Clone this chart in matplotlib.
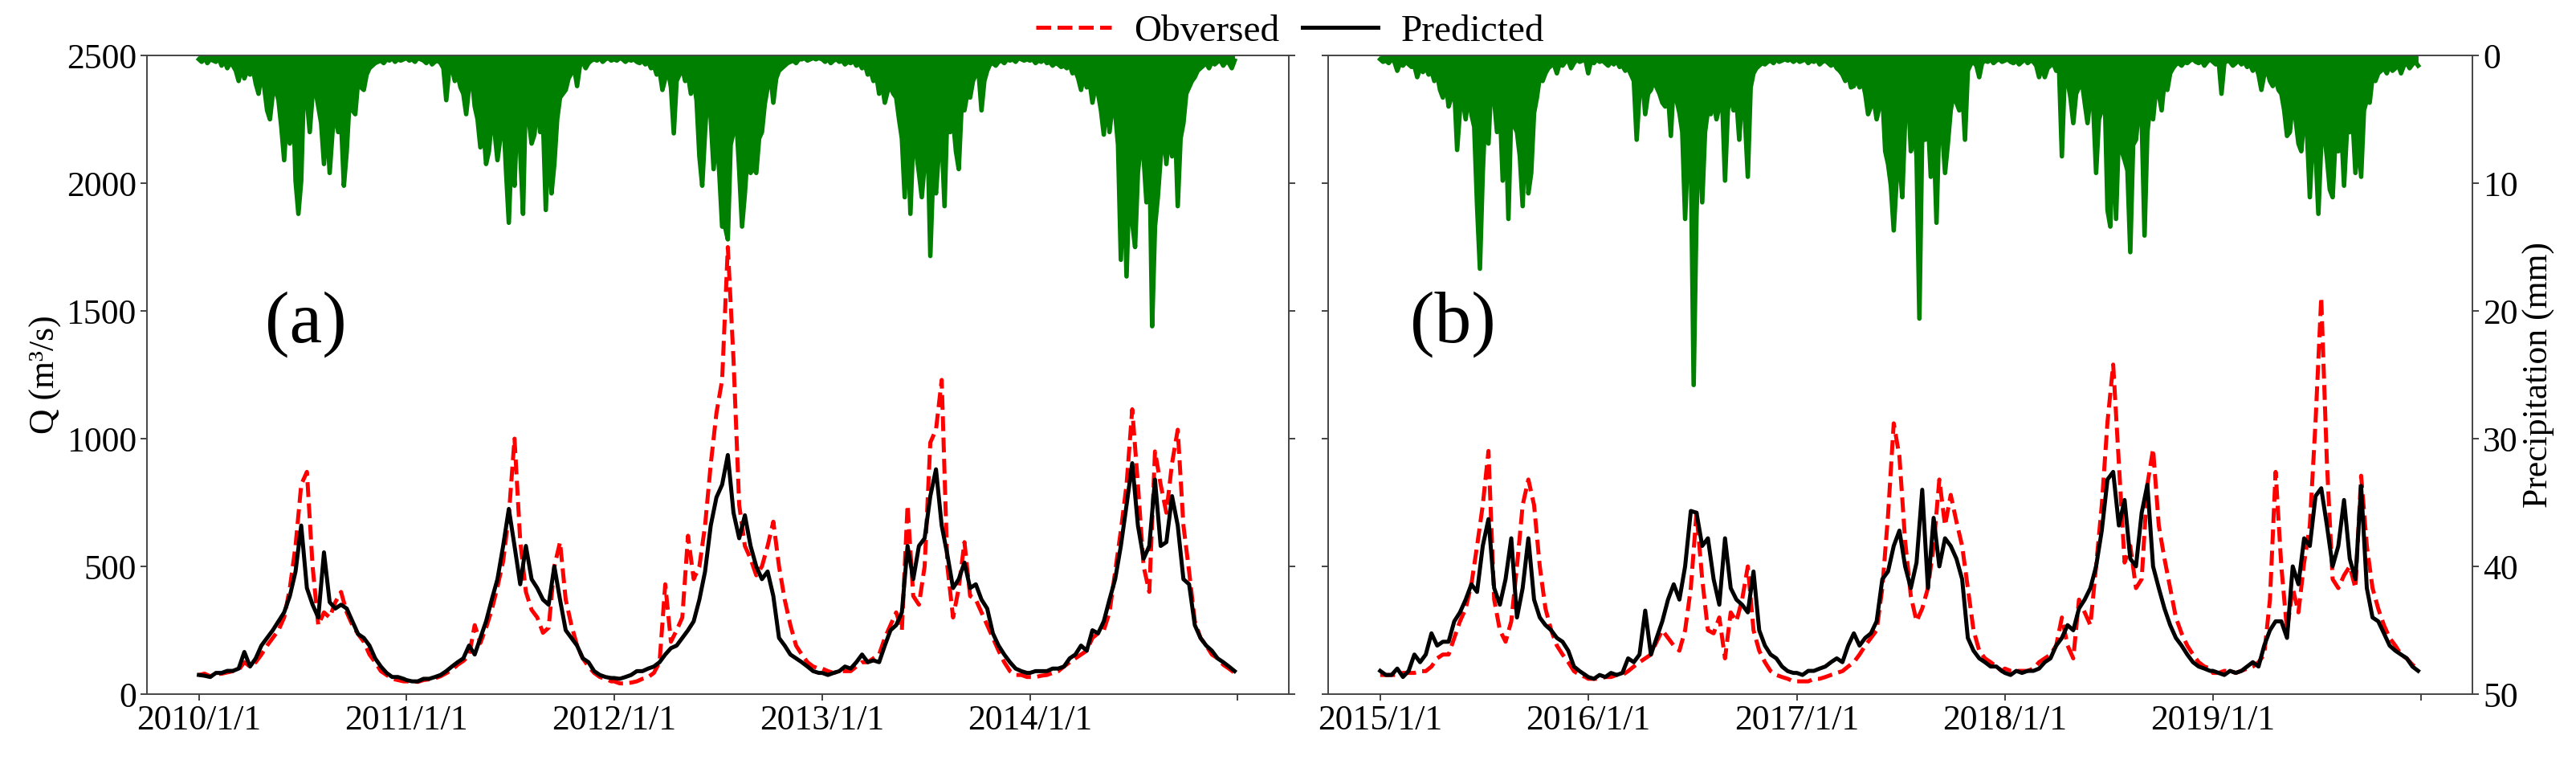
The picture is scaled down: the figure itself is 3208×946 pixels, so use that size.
import numpy as np
import pandas as pd
import matplotlib
matplotlib.use('Agg')
from matplotlib import pyplot as plt

plt.rcParams['font.family'] = ['Liberation Serif', 'DejaVu Serif']

years_a = [2010, 2011, 2012, 2013, 2014]
years_b = [2015, 2016, 2017, 2018, 2019]

obs_a = [
    75, 80, 70, 78, 80, 85, 90, 95, 125, 108, 125, 155, 190, 220, 250, 300, 415, 580, 820, 870, 500, 270, 320, 300, 360, 400, 320, 270, 235, 205, 155, 125, 90, 75, 60, 55, 50,
    50, 50, 48, 55, 58, 62, 70, 82, 95, 115, 130, 150, 270, 200, 260, 330, 420, 520, 700, 1000, 600, 400, 330, 300, 240, 260, 500, 595, 370, 270, 190, 140, 108, 83, 67, 60, 50,
    50, 42, 42, 45, 50, 60, 67, 83, 125, 430, 205, 250, 300, 620, 450, 500, 660, 900, 1100, 1230, 1750, 1310, 740, 580, 530, 465, 500, 580, 675, 500, 370, 270, 190, 155, 125, 108, 100,
    100, 90, 83, 90, 90, 90, 108, 125, 125, 140, 155, 220, 270, 320, 250, 740, 384, 350, 500, 985, 1035, 1230, 500, 300, 415, 595, 384, 370, 320, 270, 220, 170, 125, 90, 75, 75, 67,
    67, 67, 72, 75, 83, 90, 108, 125, 140, 155, 170, 220, 238, 250, 320, 480, 640, 820, 1115, 820, 500, 400, 950, 820, 710, 904, 1035, 660, 480, 285, 220, 190, 155, 140, 115, 100, 83,
]
pred_a = [
    75, 72, 67, 83, 83, 91, 91, 100, 165, 108, 140, 190, 220, 250, 285, 320, 384, 480, 660, 415, 350, 300, 555, 360, 335, 350, 335, 285, 235, 220, 190, 140, 108, 83, 67, 67, 60,
    55, 50, 50, 60, 60, 67, 75, 90, 108, 125, 140, 190, 155, 220, 285, 370, 450, 580, 725, 580, 430, 580, 450, 415, 370, 350, 500, 370, 250, 220, 190, 140, 125, 90, 75, 67, 63,
    63, 60, 67, 75, 90, 90, 100, 108, 125, 155, 180, 190, 220, 250, 285, 370, 480, 660, 770, 820, 936, 710, 610, 700, 580, 500, 450, 480, 384, 220, 190, 155, 140, 125, 108, 90, 83,
    83, 75, 83, 90, 108, 100, 125, 155, 125, 132, 125, 190, 250, 270, 320, 580, 450, 580, 610, 775, 880, 660, 545, 415, 450, 515, 415, 430, 370, 335, 238, 190, 155, 125, 100, 90, 83,
    83, 90, 90, 90, 100, 100, 108, 140, 155, 190, 170, 250, 238, 285, 370, 450, 580, 740, 904, 660, 530, 580, 840, 580, 595, 775, 660, 450, 430, 270, 220, 190, 170, 140, 125, 108, 90,
]
rain_a = [
    0.3, 0.5, 0.2, 0.6, 0.3, 0.4, 0.5, 0.2, 0.8, 0.4, 1.0, 0.6, 0.8, 1.2, 2.0, 0.9, 1.8, 1.2, 1.5, 1.0, 2.2, 3.0, 1.5, 2.5,
    4.3, 5.0, 3.0, 2.7, 3.5, 5.6, 8.2, 4.5, 6.9, 1.7, 9.8, 12.4, 9.8, 2.0, 3.5, 6.0, 3.0, 2.7, 4.0, 5.3, 8.5, 5.0, 9.2, 6.0,
    4.3, 6.0, 5.0, 10.2, 7.5, 3.5, 4.3, 4.6, 2.0, 2.5, 2.7, 1.5, 1.0, 0.8, 0.6, 0.5, 0.4, 0.6, 0.3, 0.4, 0.2, 0.5, 0.3, 0.4, 0.3,
    0.2, 0.4, 0.3, 0.5, 0.2, 0.3, 0.4, 0.6, 0.3, 0.7, 0.5, 0.4, 0.6, 1.0, 3.5, 1.2, 1.0, 2.0, 1.5, 2.5, 3.0, 4.6, 2.5, 1.7,
    4.0, 5.0, 7.2, 5.5, 8.5, 7.5, 5.0, 6.0, 8.2, 6.5, 4.3, 9.0, 13.1, 7.0, 10.2, 4.3, 7.5, 12.4, 2.7, 5.0, 6.9, 6.2, 3.7, 6.0,
    5.0, 12.1, 6.0, 10.8, 8.5, 5.0, 3.3, 3.0, 2.7, 1.8, 1.4, 1.0, 2.4, 0.8, 0.5, 1.0, 0.6, 0.4, 0.3, 0.4, 0.2, 0.5, 0.3, 0.2, 0.4,
    0.3, 0.4, 0.2, 0.3, 0.5, 0.3, 0.4, 0.3, 0.5, 0.6, 0.4, 0.7, 0.5, 1.0, 0.8, 1.5, 1.2, 2.7, 1.8, 1.2, 2.5, 6.1, 2.0, 1.5,
    1.0, 2.0, 1.5, 3.0, 2.0, 3.5, 7.9, 10.2, 6.0, 2.5, 5.0, 8.9, 6.0, 9.2, 13.4, 13.4, 14.4, 7.0, 6.0, 5.0, 9.0, 13.4, 10.8, 7.5,
    9.2, 8.8, 9.2, 6.5, 6.0, 3.8, 2.5, 1.5, 3.7, 1.8, 1.2, 1.0, 0.8, 0.6, 0.5, 0.4, 0.6, 0.3, 0.3, 0.2, 0.4, 0.3, 0.2, 0.3, 0.2,
    0.3, 0.5, 0.3, 0.6, 0.4, 0.3, 0.5, 0.4, 0.7, 0.5, 0.6, 0.4, 0.8, 0.6, 1.0, 0.7, 1.5, 1.2, 2.0, 1.5, 3.0, 2.2, 3.7, 2.8,
    2.5, 3.0, 3.3, 5.0, 6.5, 11.1, 5.5, 12.4, 6.5, 7.5, 9.2, 11.1, 8.5, 6.0, 15.7, 9.2, 10.8, 7.5, 6.5, 11.8, 4.3, 6.0, 5.0, 7.5,
    8.9, 4.0, 4.3, 3.0, 3.3, 2.0, 1.5, 1.4, 4.3, 2.0, 1.2, 0.7, 0.6, 0.8, 0.5, 0.4, 0.6, 0.3, 0.4, 0.3, 0.5, 0.2, 0.3, 0.4, 0.3,
    0.4, 0.3, 0.6, 0.4, 0.5, 0.3, 0.6, 0.5, 0.8, 0.6, 0.7, 0.9, 0.8, 1.0, 0.7, 1.4, 1.2, 1.8, 2.7, 1.5, 2.5, 2.0, 3.7, 2.5,
    3.0, 4.3, 6.2, 3.5, 6.0, 4.0, 4.5, 7.0, 16.0, 9.2, 17.3, 10.0, 13.1, 15.0, 9.2, 6.9, 8.0, 11.5, 7.0, 21.2, 13.4, 11.1, 8.0, 5.9,
    8.5, 6.0, 7.9, 5.0, 11.8, 6.5, 5.3, 3.0, 2.5, 2.0, 1.7, 1.2, 1.0, 0.8, 0.6, 1.0, 0.5, 0.7, 0.5, 0.4, 0.8, 0.5, 0.6, 1.0, 0.4,
]

obs_b = [
    75, 75, 75, 75, 83, 83, 83, 90, 90, 108, 140, 155, 155, 220, 285, 335, 430, 580, 740, 952, 370, 250, 205, 285, 500, 740, 840, 740, 500, 335, 250, 190, 155, 125, 90, 75, 67,
    60, 60, 60, 67, 67, 75, 75, 90, 108, 125, 140, 155, 205, 250, 220, 190, 170, 250, 415, 710, 450, 250, 238, 300, 140, 320, 285, 370, 500, 250, 170, 125, 90, 75, 67, 60, 50,
    50, 50, 50, 60, 60, 67, 75, 83, 90, 108, 125, 155, 190, 220, 250, 415, 700, 1060, 930, 600, 384, 285, 335, 415, 580, 840, 660, 780, 675, 580, 415, 250, 170, 140, 125, 108, 90,
    100, 91, 91, 91, 91, 100, 125, 140, 155, 190, 300, 190, 140, 370, 320, 270, 500, 740, 1065, 1290, 900, 515, 580, 415, 450, 820, 960, 660, 530, 415, 300, 238, 190, 155, 125, 108, 100,
    83, 83, 91, 91, 83, 91, 100, 108, 125, 155, 370, 870, 500, 250, 415, 320, 515, 660, 1065, 1553, 904, 450, 415, 465, 500, 415, 855, 580, 415, 335, 270, 220, 190, 155, 140, 115, 100,
]
pred_b = [
    91, 75, 75, 100, 67, 91, 155, 125, 155, 238, 190, 205, 205, 285, 320, 370, 430, 400, 580, 685, 415, 350, 450, 610, 300, 415, 610, 370, 300, 270, 250, 220, 205, 170, 108, 90, 75,
    67, 60, 75, 67, 83, 75, 83, 140, 125, 155, 327, 155, 220, 285, 370, 430, 370, 500, 717, 710, 580, 610, 450, 350, 610, 415, 370, 350, 320, 480, 250, 190, 155, 140, 108, 90, 83,
    83, 75, 91, 91, 100, 108, 125, 140, 125, 190, 238, 190, 220, 238, 285, 450, 480, 580, 640, 500, 415, 515, 800, 415, 690, 500, 610, 580, 530, 450, 220, 170, 140, 125, 108, 108, 90,
    83, 75, 91, 83, 91, 91, 100, 125, 140, 190, 220, 270, 250, 335, 370, 415, 500, 640, 840, 870, 660, 760, 530, 500, 710, 820, 500, 415, 335, 270, 220, 190, 155, 125, 108, 100, 91,
    91, 83, 75, 91, 83, 91, 108, 125, 108, 190, 250, 285, 285, 220, 500, 430, 610, 580, 775, 806, 660, 500, 580, 760, 530, 450, 815, 415, 300, 285, 238, 190, 170, 155, 140, 108, 91,
]
rain_b = [
    0.3, 0.5, 0.4, 0.6, 0.3, 0.5, 1.2, 0.6, 0.8, 0.5, 0.7, 0.9, 0.8, 1.7, 1.0, 1.3, 0.9, 1.5, 1.2, 2.0, 1.5, 2.7, 3.3, 2.0,
    4.0, 3.3, 2.5, 7.4, 4.3, 3.5, 5.0, 3.0, 4.6, 5.6, 11.8, 16.7, 9.2, 4.0, 6.9, 2.0, 3.5, 6.0, 4.0, 9.8, 5.0, 12.8, 4.3, 5.5,
    6.0, 7.9, 11.8, 5.3, 10.8, 9.2, 4.5, 3.3, 1.7, 2.0, 1.4, 1.0, 0.8, 0.7, 1.4, 0.6, 0.8, 0.5, 0.4, 1.0, 0.6, 0.3, 0.5, 0.4, 0.3,
    1.4, 0.4, 0.6, 0.3, 0.5, 0.4, 0.6, 0.8, 0.5, 0.7, 0.4, 0.9, 0.8, 1.2, 1.0, 1.5, 2.0, 6.6, 3.0, 2.0, 4.6, 3.0, 2.7, 2.0,
    2.5, 3.0, 3.7, 4.0, 3.0, 6.3, 2.0, 3.5, 4.5, 6.0, 12.8, 7.5, 8.0, 25.8, 12.4, 5.0, 11.5, 6.0, 4.3, 4.6, 3.5, 5.0, 4.0, 3.5,
    9.8, 4.3, 3.0, 4.3, 3.5, 6.6, 3.0, 5.0, 9.5, 2.5, 1.4, 1.0, 0.8, 0.6, 0.7, 0.5, 0.4, 0.6, 0.3, 0.5, 0.4, 0.3, 0.4, 0.3, 0.5,
    0.3, 0.5, 0.4, 0.3, 0.6, 0.4, 0.5, 0.3, 0.7, 0.5, 0.4, 0.6, 0.8, 0.6, 1.0, 1.2, 1.5, 2.0, 1.5, 2.5, 2.4, 1.8, 2.5, 2.0,
    3.0, 4.6, 4.0, 3.5, 5.0, 4.0, 3.0, 7.5, 8.5, 10.2, 13.7, 9.8, 8.2, 11.1, 5.0, 2.7, 7.5, 5.5, 7.9, 20.6, 6.0, 6.6, 5.0, 9.5,
    6.0, 13.1, 5.0, 5.9, 9.2, 6.9, 4.3, 3.0, 3.7, 4.3, 2.5, 6.6, 1.2, 0.7, 0.5, 0.8, 1.7, 0.6, 0.4, 0.5, 0.3, 0.6, 0.4, 0.3, 0.5,
    0.4, 0.3, 0.5, 0.6, 0.4, 0.7, 0.5, 0.3, 0.6, 0.4, 0.5, 0.8, 1.7, 0.9, 1.7, 1.0, 0.8, 0.6, 1.2, 1.0, 7.9, 1.5, 2.0, 3.3,
    5.3, 3.0, 2.5, 2.0, 3.7, 5.3, 3.3, 4.0, 9.2, 5.0, 4.3, 2.7, 12.1, 13.4, 6.0, 12.8, 6.0, 7.5, 8.2, 9.0, 15.4, 7.0, 6.6, 4.3,
    5.0, 14.1, 6.0, 4.0, 5.0, 2.7, 3.0, 4.3, 2.0, 2.7, 1.4, 1.0, 0.7, 0.6, 0.8, 0.5, 0.6, 0.4, 0.3, 0.5, 0.6, 0.4, 0.8, 0.5, 0.3,
    0.5, 0.7, 0.4, 3.0, 0.6, 0.4, 0.5, 0.8, 0.6, 0.4, 0.7, 0.5, 0.9, 0.7, 1.2, 0.8, 1.5, 2.7, 1.5, 1.2, 2.0, 2.4, 1.8, 2.7,
    3.0, 4.3, 6.3, 6.0, 3.7, 5.0, 6.9, 7.5, 5.0, 6.0, 11.1, 6.5, 7.5, 12.4, 6.9, 6.0, 8.0, 10.5, 11.1, 6.5, 7.5, 5.5, 10.2, 6.0,
    6.0, 5.0, 9.2, 6.5, 9.5, 4.3, 3.5, 3.7, 1.7, 2.0, 1.4, 1.2, 1.0, 1.4, 0.8, 1.2, 1.0, 0.7, 1.4, 0.8, 0.6, 1.0, 0.7, 0.5, 0.8,
]

FS = 31.5


def year_dates(years, n, step):
    parts = [pd.date_range(f'{y}-01-01', periods=n, freq=f'{step}D') for y in years]
    return parts[0].append(parts[1:])


def draw_panel(ax, years, obs, pred, rain, tag, tag_x, show_left, show_right):
    tq = year_dates(years, 37, 10)
    tr = year_dates(years, 73, 5)
    ax.plot(tq, obs, color='red', ls='--', lw=3.6, label='Obversed')
    ax.plot(tq, pred, color='black', lw=3.6, label='Predicted')
    ax.set_ylim(0, 2500)
    ax.set_yticks(range(0, 2501, 500))

    x0 = pd.Timestamp(f'{years[0]}-01-01')
    x1 = pd.Timestamp(f'{years[-1]}-12-31')
    pad = (x1 - x0) * 0.05
    ax.set_xlim(x0 - pad, x1 + pad)
    ax.set_xticks([pd.Timestamp(f'{y}-01-01') for y in years + [years[-1] + 1]])
    ax.set_xticklabels([f'{y}/1/1' for y in years] + [''])

    # rainfall hangs from the top on an inverted twin axis
    ax2 = ax.twinx()
    ax2.fill_between(tr, 0, rain, color='green', lw=0)
    ax2.plot(tr, rain, color='green', lw=4.0)
    ax2.set_ylim(50, 0)
    ax2.set_yticks(range(0, 51, 10))

    for a in (ax, ax2):
        a.tick_params(labelsize=FS, length=6, width=1.2, colors='#222222', labelcolor='black')
        for s in a.spines.values():
            s.set_linewidth(1.2)
            s.set_color('#444444')
    ax.tick_params(axis='y', labelleft=show_left)
    ax2.tick_params(axis='y', labelright=show_right)
    if show_left:
        ax.set_ylabel('Q (m³/s)', fontsize=FS)
    if show_right:
        ax2.set_ylabel('Precipitation (mm)', fontsize=FS)

    ax.text(tag_x, 0.579, tag, transform=ax.transAxes, fontsize=66,
            ha='center', va='center')
    return ax2


fig = plt.figure(figsize=(32.08, 9.46), dpi=100)
ax_a = fig.add_axes([0.05704, 0.08668, 0.44327, 0.84038])
ax_b = fig.add_axes([0.51559, 0.08668, 0.44420, 0.84038])

draw_panel(ax_a, years_a, obs_a, pred_a, rain_a, '(a)', 0.139, True, False)
draw_panel(ax_b, years_b, obs_b, pred_b, rain_b, '(b)', 0.109, False, True)

handles, labels = ax_a.get_legend_handles_labels()
fig.legend(handles, labels, loc='center', bbox_to_anchor=(0.5008, 0.9588), ncol=2,
           frameon=False, fontsize=34, handlelength=2.0, handletextpad=0.6,
           columnspacing=0.6, borderaxespad=0)

fig.savefig('out.png', dpi=100)
